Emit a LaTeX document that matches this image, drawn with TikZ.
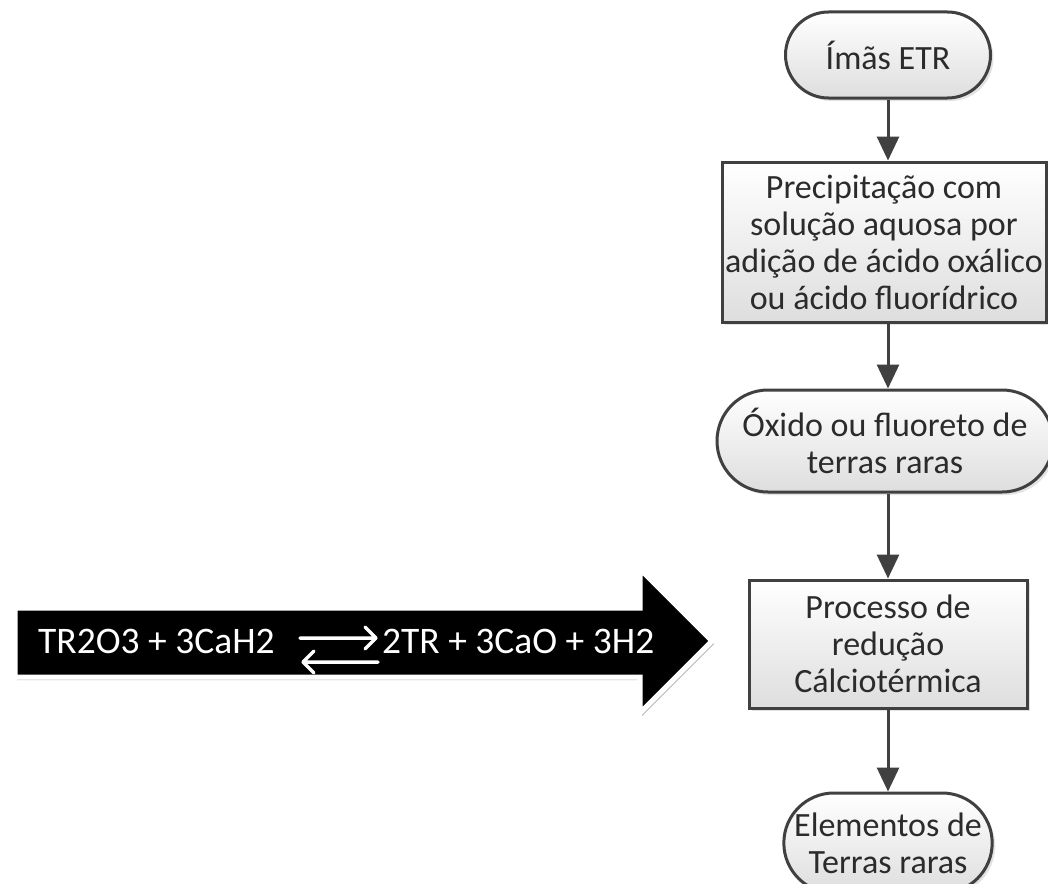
\documentclass[tikz,border=0pt]{standalone}
\usepackage{fontspec}
\setmainfont{Carlito}
\usetikzlibrary{shapes.misc,arrows.meta,shadows}
\definecolor{edgegray}{HTML}{404040}
\definecolor{txtgray}{HTML}{2B2B2B}
\tikzset{
  basebox/.style={draw=edgegray, line width=3pt, top color=white, bottom color=black!13,
    text=txtgray, align=center, font=\fontsize{34}{37}\selectfont, inner sep=0pt,
    drop shadow={opacity=0.22, shadow xshift=3pt, shadow yshift=-3pt}},
  termbox/.style={basebox, rounded rectangle},
  procbox/.style={basebox, rectangle},
  flow/.style={draw=edgegray, line width=3pt, -{Triangle[length=24pt,width=22pt]}},
  eqtext/.style={text=white, font=\fontsize{37.5}{40}\selectfont, inner sep=0pt, anchor=base west},
  eqarrow/.style={draw=white, line width=3.5pt, line cap=round, line join=round},
  bigarrow/.style={fill=black, draw=white, line width=5pt, line join=miter,
    drop shadow={opacity=0.45, shadow xshift=2pt, shadow yshift=-3pt, fill=black!60}}
}
\begin{document}
\begin{tikzpicture}[x=1pt,y=-1pt]
\useasboundingbox (0,0) rectangle (1048,883);
\fill[white] (0,0) rectangle (1048,883);

% flowchart
\node[termbox, minimum width=205pt, minimum height=86pt] (n1) at (888,55) {Ímãs ETR};
\node[procbox, minimum width=324pt, minimum height=160pt] (n2) at (884,242)
  {Precipitação com\\solução aquosa por\\adição de ácido oxálico\\ou ácido fluorídrico};
\node[termbox, minimum width=336pt, minimum height=102pt] (n3) at (885,441)
  {Óxido ou fluoreto de\\terras raras};
\node[procbox, minimum width=278pt, minimum height=128pt] (n4) at (888,644)
  {Processo de\\redução\\Cálciotérmica};
\node[termbox, minimum width=205pt, minimum height=100pt] (n5) at (888,843)
  {Elementos de\\Terras raras};

\draw[flow] (n1.south) -- (n1.south |- n2.north);
\draw[flow] (n1.south |- n2.south) -- (n1.south |- n3.north);
\draw[flow] (n1.south |- n3.south) -- (n4.north);
\draw[flow] (n4.south) -- (n5.north);

% big black arrow with the reaction
\path[bigarrow] (15,608) -- (640,608) -- (640,569) -- (712,641) -- (640,713)
  -- (640,677) -- (15,677) -- cycle;
\node[eqtext] (lhs) at (38,653) {TR2O3 + 3CaH2};
\node[eqtext] (rhs) at (382,653) {2TR + 3CaO + 3H2};
\coordinate (fwdA) at (300,638);
\coordinate (fwdB) at (376,638);
\coordinate (revA) at (378,662);
\coordinate (revB) at (303,662);
\draw[eqarrow] (fwdA) -- (fwdB) ++(-11,-11) -- (fwdB) -- ++(-11,11);
\draw[eqarrow] (revA) -- (revB) ++(11,-11) -- (revB) -- ++(11,11);
\end{tikzpicture}
\end{document}
